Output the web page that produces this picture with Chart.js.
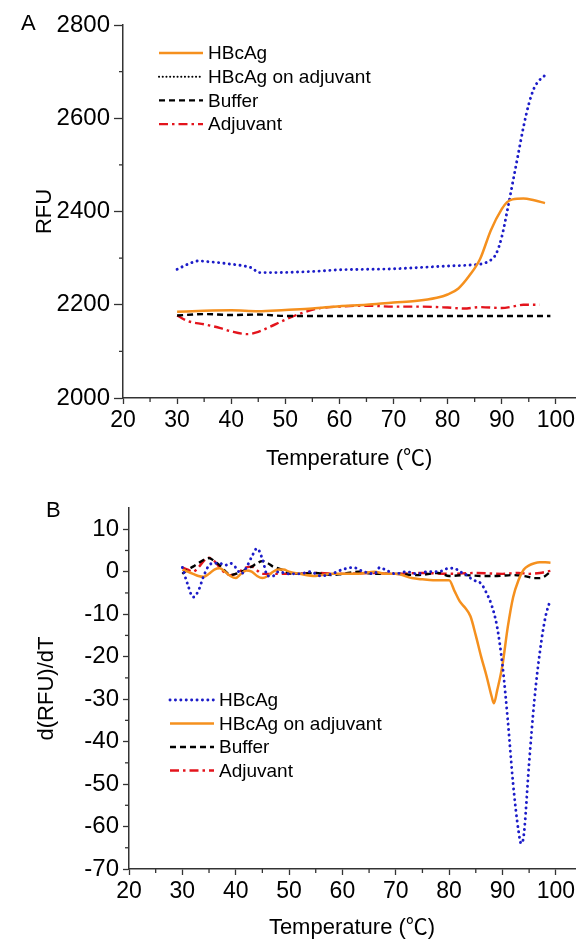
<!DOCTYPE html>
<html>
<head>
<meta charset="utf-8">
<script src="https://cdn.jsdelivr.net/npm/chart.js@4.4.1/dist/chart.umd.min.js"></script>
<style>
  html, body { margin: 0; padding: 0; background: #fff; }
  body { width: 578px; height: 945px; position: relative; overflow: hidden; font-family: "Liberation Sans", Arial, sans-serif; }
  .panel { position: absolute; left: 0; width: 578px; }
  #boxA { top: 0; height: 480px; }
  #boxB { top: 480px; height: 465px; }
  .tag { position: absolute; font-size: 22px; color: #000; line-height: 1; }
</style>
</head>
<body>
<div class="panel" id="boxA"><canvas id="chartA"></canvas></div>
<div class="panel" id="boxB"><canvas id="chartB"></canvas></div>
<div class="tag" style="left:21px;top:12px">A</div>
<div class="tag" style="left:46px;top:499px">B</div>
<script>
// ---- panel A : raw fluorescence ----
const hbcagTempA = [30, 35, 40, 45, 50, 55, 60, 65, 70, 74, 78, 80, 82, 84, 86, 88, 90, 91, 92, 94, 96, 98];
const hbcagRfuA  = [2185, 2187, 2188, 2186, 2189, 2192, 2197, 2200, 2205, 2208, 2215, 2222, 2235, 2262, 2298, 2360, 2405, 2420, 2426, 2428, 2424, 2418];

const adjHbcagTempA = [30, 32, 34, 36, 38, 40, 42, 44, 45, 48, 52, 56, 60, 65, 70, 75, 80, 84, 86, 87, 88, 89, 90, 91, 92, 93, 94, 95, 96, 97, 98];
const adjHbcagRfuA  = [2276, 2287, 2294, 2292, 2290, 2287, 2284, 2278, 2269, 2269, 2270, 2272, 2275, 2276, 2277, 2280, 2283, 2285, 2287, 2290, 2296, 2310, 2345, 2400, 2460, 2520, 2580, 2630, 2665, 2682, 2692];

const bufferTempA = [30, 35, 40, 45, 50, 60, 70, 80, 90, 99];
const bufferRfuA  = [2177, 2180, 2178, 2179, 2176, 2176, 2176, 2176, 2176, 2176];

const adjuvantTempA = [30, 32, 35, 38, 40, 43, 45, 47, 50, 53, 56, 60, 65, 70, 75, 80, 83, 86, 90, 92, 94, 97];
const adjuvantRfuA  = [2177, 2165, 2158, 2150, 2143, 2137, 2142, 2152, 2168, 2182, 2192, 2196, 2198, 2196, 2196, 2194, 2192, 2195, 2193, 2196, 2200, 2200];

// ---- panel B : first derivative ----
const hbcagTempB = [30, 31, 32, 33, 34, 35, 36, 37, 38, 39, 40, 41, 42, 43, 44, 45, 46, 47, 48, 50, 52, 54, 56, 58, 60, 62, 64, 66, 67, 68, 70, 72, 74, 76, 78, 80, 81, 82, 83, 84, 85, 86, 87, 88, 89, 90, 91, 92, 93, 93.5, 94, 95, 96, 97, 98, 99];
const hbcagDerivB = [1, -3, -6, -4.5, -1, 1.5, 2, 2, 1.5, 2, 1, -0.5, 1, 3.5, 5.5, 3, -1, -1, 0, -0.5, -0.5, 0, -1, -0.5, 0.5, 1, 0, -0.5, 1, 0.5, -0.5, 0, -0.5, 0, 0, 0.8, 0.8, 0, -0.5, -1.5, -2.2, -2.8, -5, -8, -13, -22, -35, -50, -61, -64, -62, -45, -30, -19, -11, -6.5];

const adjHbcagTempB = [30, 31, 32, 33, 34, 35, 36, 37, 38, 39, 40, 41, 42, 43, 44, 45, 46, 47, 48, 49, 50, 52, 55, 58, 60, 63, 66, 68, 70, 73, 75, 77, 79, 80, 81, 82, 83, 84, 85, 86, 87, 88, 88.4, 89, 90, 91, 92, 93, 94, 95, 96, 97, 98, 99];
const adjHbcagDerivB = [0.5, 0, -0.5, -1, -1.2, -0.5, 0.5, 0.8, 0, -1, -1.5, -0.5, 0.3, 0, -1, -1.5, -1, 0, 0.5, 0.5, 0, -0.5, -1, -0.5, -0.5, -0.5, 0, -0.5, -0.5, -1.5, -1.8, -2, -2, -2, -4.5, -7, -8.5, -10.5, -15, -20, -24.5, -29.5, -31, -28, -22, -13, -6, -2, 0.5, 1.5, 2, 2.2, 2.2, 2.1];

const bufferTempB = [30, 31, 32, 33, 34, 35, 36, 37, 38, 39, 40, 41, 42, 43, 44, 45, 46, 47, 48, 49, 50, 52, 55, 58, 60, 63, 66, 70, 74, 78, 80, 83, 86, 89, 92, 94, 96, 97, 98, 99];
const bufferDerivB = [-0.5, 0.5, 1.2, 2, 2.8, 3.2, 2.5, 1.5, 0.2, -0.8, -0.5, 0, 0.5, 1.2, 2, 2.5, 2, 1.2, 0.8, 0.3, -0.3, -0.5, -0.3, -0.8, -0.5, 0, -0.5, -0.5, -0.8, -0.3, -1, -0.8, -1, -1, -0.8, -1, -1.5, -1.5, -1, 0];

const adjuvantTempB = [30, 31, 32, 33, 34, 35, 36, 37, 38, 39, 40, 41, 42, 43, 44, 45, 46, 48, 50, 55, 60, 65, 70, 75, 80, 85, 90, 93, 95, 97, 99];
const adjuvantDerivB = [1, 0.5, 0, 1, 2.5, 3.3, 2.5, 1, -0.3, -0.8, -0.5, 0.3, 1, 1.2, 0.3, -0.5, -0.5, -0.5, -0.5, -0.3, -0.5, -0.3, -0.5, -0.3, -0.5, -0.3, -0.5, -0.3, -0.5, -0.3, 0.2];

// ---- tick labels ----
const tempTicks = [20, 30, 40, 50, 60, 70, 80, 90, 100];
const rfuTicks = [2000, 2200, 2400, 2600, 2800];
const derivTicks = [-70, -60, -50, -40, -30, -20, -10, 0, 10];
const xTitle = 'Temperature (℃)';

const ORANGE = '#f5901e';
const BLUE = '#1c1cc8';
const RED = '#e3141c';
const BLACK = '#000000';
const AXIS = '#333333';
const FONT = '"Liberation Sans", Arial, sans-serif';
const TITLE_FONT = '"Liberation Sans", "Noto Sans CJK SC", sans-serif';

function pts(xs, ys) { return xs.map((x, i) => ({ x: x, y: ys[i] })); }

const styles = {
  solid:   { borderColor: ORANGE, borderWidth: 2.5, borderDash: [] },
  dotted:  { borderColor: BLUE, borderWidth: 2.9, borderDash: [0.1, 5.3], borderCapStyle: 'round' },
  dashed:  { borderColor: BLACK, borderWidth: 2.4, borderDash: [6, 4] },
  dashDot: { borderColor: RED, borderWidth: 2.4, borderDash: [9, 4, 2.5, 4] }
};

// legend drawn inside the plot, like the original figure
const insideLegend = {
  id: 'insideLegend',
  afterDraw(chart, args, opts) {
    const ctx = chart.ctx;
    ctx.save();
    ctx.font = '19px ' + FONT;
    ctx.textBaseline = 'middle';
    chart.data.datasets.forEach((ds, i) => {
      const y = opts.y + i * opts.gap;
      ctx.beginPath();
      ctx.strokeStyle = ds.legendColor || ds.borderColor;
      ctx.lineWidth = ds.legendWidth || ds.borderWidth;
      ctx.lineCap = ds.borderCapStyle || 'butt';
      ctx.setLineDash(ds.legendDash || ds.borderDash || []);
      ctx.moveTo(opts.x, y);
      ctx.lineTo(opts.x + opts.len, y);
      ctx.stroke();
      ctx.setLineDash([]);
      ctx.fillStyle = '#000';
      ctx.fillText(ds.label, opts.x + opts.len + 5, y + 1);
    });
    ctx.restore();
  }
};

// short unlabeled ticks between the labelled ones
const minorTicks = {
  id: 'minorTicks',
  afterDraw(chart, args, opts) {
    const ctx = chart.ctx;
    ctx.save();
    ctx.strokeStyle = AXIS;
    ctx.lineWidth = 1.3;
    ['x', 'y'].forEach(id => {
      const s = chart.scales[id];
      const step = opts[id];
      const major = s.ticks.map(t => t.value);
      for (let v = s.min + step; v < s.max; v += step) {
        if (major.some(m => Math.abs(m - v) < 1e-6)) continue;
        const p = s.getPixelForValue(v);
        ctx.beginPath();
        if (id === 'x') { ctx.moveTo(p, s.top); ctx.lineTo(p, s.top + opts.len); }
        else { ctx.moveTo(s.right, p); ctx.lineTo(s.right - opts.len, p); }
        ctx.stroke();
      }
    });
    ctx.restore();
  }
};

function axisBase(values, size, tickLen, pad) {
  return {
    type: 'linear',
    border: { display: true, color: AXIS, width: 1.5 },
    grid: { drawOnChartArea: false, drawTicks: true, tickLength: tickLen, tickColor: AXIS, tickWidth: 1.3 },
    ticks: { color: '#000', font: { family: FONT, size: size }, padding: pad, callback: v => String(v) },
    afterBuildTicks: s => { s.ticks = values.map(v => ({ value: v })); }
  };
}

function makeChart(canvasId, datasets, opt) {
  const x = axisBase(tempTicks, 23, 6, 3);
  x.min = 20; x.max = 103.6;
  x.afterFit = s => { s.height = opt.xHeight; };
  x.title = { display: true, text: xTitle, color: '#000', font: { family: TITLE_FONT, size: 22 }, padding: { top: 0, bottom: opt.titleBottom } };

  const y = axisBase(opt.yTicks, 24, opt.yTickLen, 4);
  y.min = opt.yMin; y.max = opt.yMax;
  y.afterFit = s => { s.width = opt.yWidth; };
  y.title = { display: true, text: opt.yTitle, color: '#000', font: { family: FONT, size: 22 }, padding: { top: opt.yTitleLeft, bottom: 0 } };

  return new Chart(document.getElementById(canvasId), {
    type: 'line',
    data: { datasets: datasets },
    options: {
      responsive: true,
      maintainAspectRatio: false,
      animation: false,
      layout: { padding: { top: opt.top, right: 0, left: 0, bottom: 0 } },
      elements: { point: { radius: 0 }, line: { cubicInterpolationMode: 'monotone', fill: false } },
      scales: { x: x, y: y },
      plugins: {
        legend: { display: false },
        tooltip: { enabled: false },
        insideLegend: opt.legend,
        minorTicks: { x: 5, y: opt.minor, len: 4 }
      }
    },
    plugins: [insideLegend, minorTicks]
  });
}

makeChart('chartA', [
  Object.assign({ label: 'HBcAg', data: pts(hbcagTempA, hbcagRfuA) }, styles.solid),
  Object.assign({ label: 'HBcAg on adjuvant', data: pts(adjHbcagTempA, adjHbcagRfuA), legendColor: BLACK, legendWidth: 2, legendDash: [0.1, 3.6] }, styles.dotted),
  Object.assign({ label: 'Buffer', data: pts(bufferTempA, bufferRfuA) }, styles.dashed),
  Object.assign({ label: 'Adjuvant', data: pts(adjuvantTempA, adjuvantRfuA) }, styles.dashDot)
], {
  yMin: 2000, yMax: 2800, yTicks: rfuTicks, minor: 100, yTitle: 'RFU', yTickLen: 9, yTitleLeft: 32,
  yWidth: 123, xHeight: 82, top: 25, titleBottom: 8,
  legend: { x: 159, y: 53, gap: 23.7, len: 44 }
});

makeChart('chartB', [
  Object.assign({ label: 'HBcAg', data: pts(hbcagTempB, hbcagDerivB) }, styles.dotted),
  Object.assign({ label: 'HBcAg on adjuvant', data: pts(adjHbcagTempB, adjHbcagDerivB) }, styles.solid),
  Object.assign({ label: 'Buffer', data: pts(bufferTempB, bufferDerivB) }, styles.dashed),
  Object.assign({ label: 'Adjuvant', data: pts(adjuvantTempB, adjuvantDerivB) }, styles.dashDot)
], {
  yMin: -70, yMax: 15, yTicks: derivTicks, minor: 5, yTitle: 'd(RFU)/dT', yTickLen: 6, yTitleLeft: 34,
  yWidth: 129, xHeight: 76, top: 28, titleBottom: 4,
  legend: { x: 170, y: 220, gap: 23.5, len: 44 }
});
</script>
</body>
</html>
